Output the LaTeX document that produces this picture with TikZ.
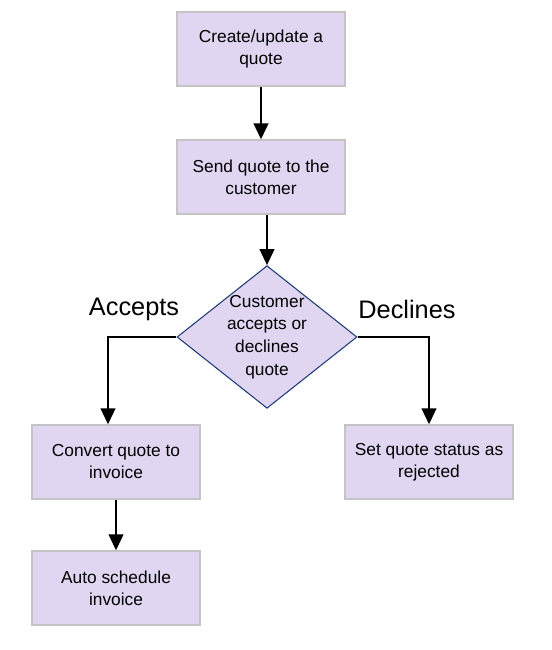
\documentclass[tikz,border=0pt]{standalone}
\usepackage{fontspec}
\setmainfont{Liberation Sans}
\usetikzlibrary{shapes.geometric,arrows.meta}
\definecolor{boxfill}{HTML}{E1D6F1}
\definecolor{boxline}{HTML}{C4C4C4}
\definecolor{decline}{HTML}{1F3B78}
\tikzset{
	stepbox/.style={draw=boxline, line width=1pt, fill=boxfill, minimum width=126pt, minimum height=55.5pt, align=center, font=\fontsize{13}{16.5}\selectfont},
	decision/.style={diamond, draw=decline, line width=0.8pt, fill=boxfill, minimum width=135pt, minimum height=107pt, inner sep=0pt},
	flow/.style={line width=1.5pt, -{Triangle[width=11pt,length=12pt]}},
	choice/.style={font=\fontsize{19}{22}\selectfont}
}

\begin{document}
\begin{tikzpicture}[x=0.75pt,y=-0.75pt]
		\useasboundingbox (0,0) rectangle (552,650);
		% boxes down the middle
		\node[stepbox] (create) at (261,49) {Create/update a\\quote};
		\node[stepbox] (send) at (261,177) {Send quote to the\\customer};

		% decision
		\node[decision] (decide) at (267,337) {};
		\node[align=center, font=\fontsize{13}{17}\selectfont] (decidetext) at (decide.center) {Customer\\accepts or\\declines\\quote};

		% two outcomes
		\node[stepbox] (convert) at (116,462) {Convert quote to\\invoice};
		\node[stepbox] (reject) at (429,462) {Set quote status as\\rejected};
		\node[stepbox] (schedule) at (116,588) {Auto schedule\\invoice};

		\node[choice] (accepts) at (134,309) {Accepts};
		\node[choice] (declines) at (407,309) {Declines};

		% -----------------------------------------------------
		\draw[flow] (create) -- (send);
		\draw[flow] (send.south -| decide.north) -- (decide.north);
		\draw[flow] (decide.west) -| ([xshift=-6pt]convert.north);
		\draw[flow] (decide.east) -| (reject.north);
		\draw[flow] (convert) -- (schedule);
\end{tikzpicture}
\end{document}
